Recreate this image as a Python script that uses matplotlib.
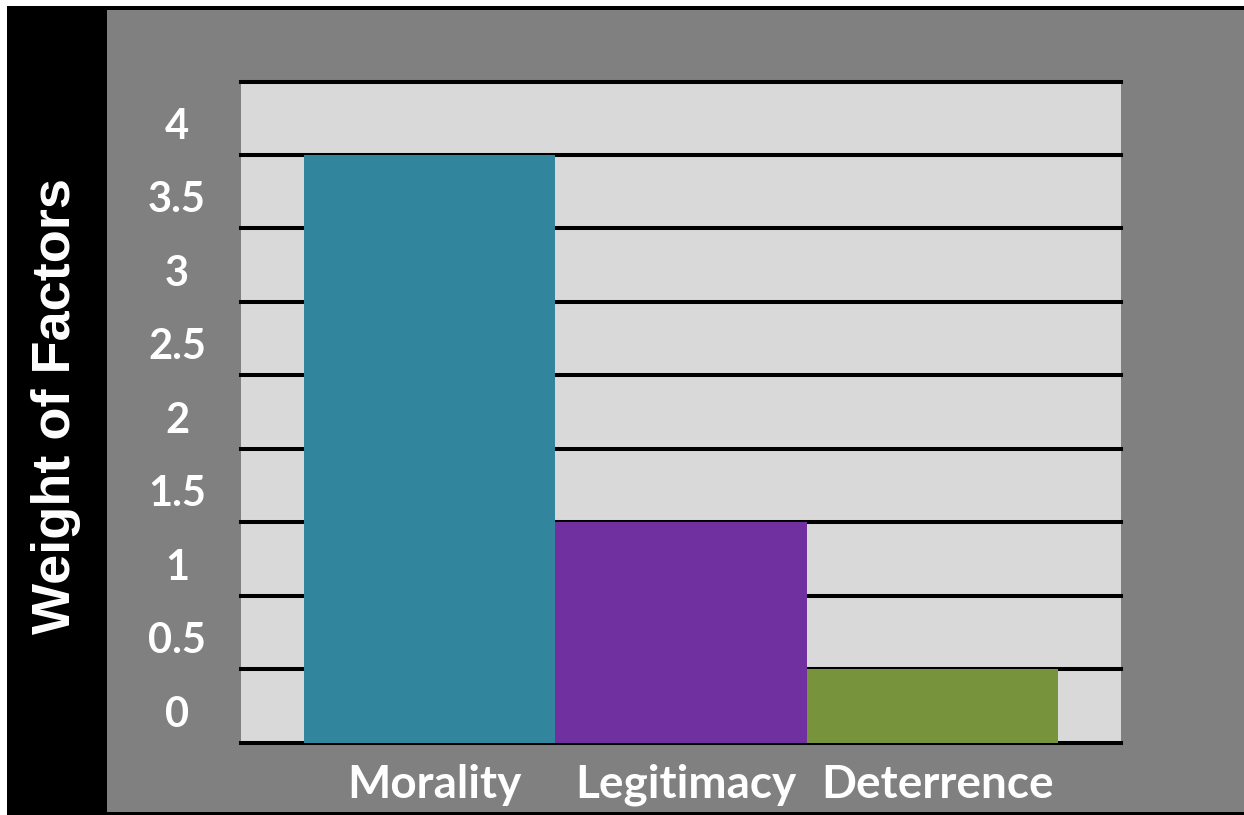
import matplotlib
matplotlib.use("Agg")
import matplotlib.pyplot as plt
from matplotlib.patches import Rectangle
from matplotlib import transforms

# 데이터
categories = ["Morality", "Legitimacy", "Deterrence"]
values = [4.0, 1.5, 0.5]
colors = ["#31859C", "#7030A0", "#77933C"]
tick_values = [0, 0.5, 1, 1.5, 2, 2.5, 3, 3.5, 4]
tick_labels = ["0", "0.5", "1", "1.5", "2", "2.5", "3", "3.5", "4"]
grid_values = [0, 0.5, 1, 1.5, 2, 2.5, 3, 3.5, 4, 4.5]

W, H = 1244, 815
fig = plt.figure(figsize=(W / 100, H / 100), dpi=100)
fig.patch.set_facecolor("white")

# 배경 (검정 테두리 + 회색 패널)
fig.patches.append(Rectangle((7 / W, 0), 1, (H - 6) / H, transform=fig.transFigure,
                             facecolor="black", edgecolor="none", zorder=-10))
fig.patches.append(Rectangle((107 / W, 3 / H), 1, (812 - 10) / H, transform=fig.transFigure,
                             facecolor="#808080", edgecolor="none", zorder=-9))

ax = fig.add_axes([241 / W, 1 - 742.7 / H, 880 / W, (742.7 - 81.5) / H])
ax.set_facecolor("#D9D9D9")
for s in ax.spines.values():
    s.set_visible(False)

for g in grid_values:
    ax.axhline(g, color="black", linewidth=2.9, zorder=1, clip_on=False)

x = list(range(len(categories)))
ax.bar(x, values, width=1.0, color=colors, zorder=2)

ax.set_xlim(-0.751, 2.751)
ax.set_ylim(0, 4.5)

ax.set_xticks([i + 0.02 for i in x])
ax.set_xticklabels(categories, fontfamily="Lato", fontweight="bold", fontsize=33, color="white")
ax.tick_params(axis="x", length=0, pad=15)
ax.set_yticks([])

# y 눈금 라벨 (원본처럼 위로 살짝 올라가 있음)
ytrans = transforms.offset_copy(ax.get_yaxis_transform(), fig=fig, y=28, units="dots")
for v, lab in zip(tick_values, tick_labels):
    ax.text((177 - 241) / 880, v, lab, transform=ytrans, ha="center", va="center",
            fontfamily="Lato", fontweight="bold", fontsize=30, color="white")

fig.text(56 / W, 1 - 406 / H, "Weight of Factors", rotation=90, ha="center", va="center",
         fontfamily="Liberation Sans", fontweight="bold", fontsize=39, color="white")

fig.savefig("out.png", dpi=100)
